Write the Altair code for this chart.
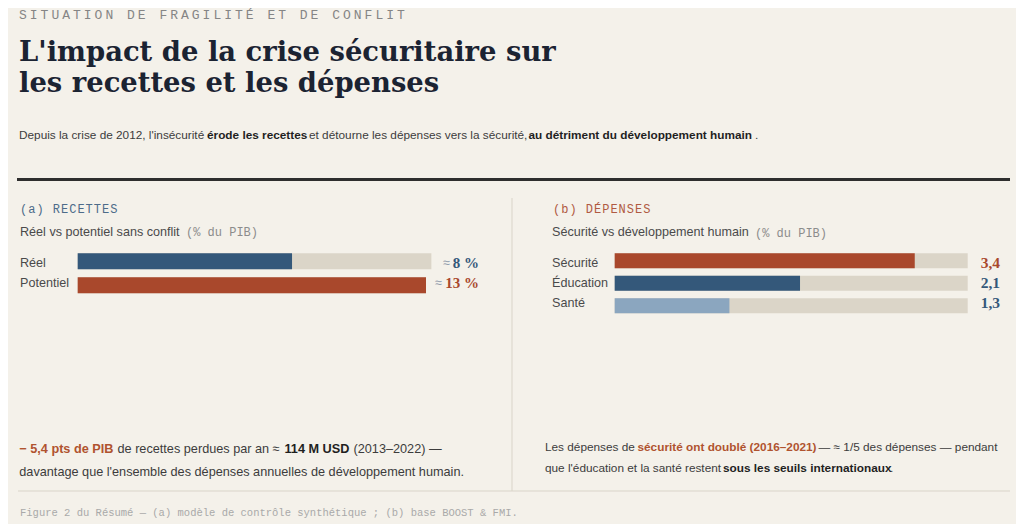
import altair as alt
import pandas as pd

# ---------------- data ----------------
REC_CATS = ["Réel", "Potentiel"]
REC_VALS = [8, 13]
REC_LABELS = ["8 %", "13 %"]
REC_TRACK = [13.2, 13.0]

DEP_CATS = ["Sécurité", "Éducation", "Santé"]
DEP_VALS = [3.4, 2.1, 1.3]
DEP_LABELS = ["3,4", "2,1", "1,3"]
DEP_MAX = 4

# ---------------- style ----------------
BG = "#f4f1ea"
TRACK = "#dbd5c8"
BLUE = "#34587a"
RED = "#a9482c"
LBLUE = "#8ba6bf"
TITLE = "#1b2332"
TXT = "#3c3c3c"
DARK = "#1f1f1f"
MUTED = "#8c8c8c"
SANS = "Liberation Sans"
SERIF = "DejaVu Serif"
NUMF = "Liberation Serif"
MONO = "Liberation Mono"
OFF = 8  # page margin

one = pd.DataFrame({"k": [0]})


def T(text, x, y, size=12.5, color=TXT, font=SANS, weight="normal", align="left", baseline="middle"):
    return alt.Chart(one).mark_text(
        align=align, baseline=baseline, font=font, fontSize=size, fontWeight=weight, color=color
    ).encode(x=alt.value(x - OFF), y=alt.value(y - OFF), text=alt.value(text))


def spaced(text, x0, y, pitch, size, color, font=MONO):
    df = pd.DataFrame({"c": list(text), "px": [x0 - OFF + i * pitch for i in range(len(text))]})
    return alt.Chart(df).mark_text(
        align="left", baseline="middle", font=font, fontSize=size, color=color
    ).encode(x=alt.X("px:Q", scale=None, axis=None), y=alt.value(y - OFF), text="c:N")


def R(x1, x2, y1, y2, color, w):
    return alt.Chart(one).mark_rule(color=color, strokeWidth=w).encode(
        x=alt.value(x1 - OFF), x2=alt.value(x2 - OFF), y=alt.value(y1 - OFF), y2=alt.value(y2 - OFF)
    )


layers = []

# header
layers.append(spaced("SITUATION DE FRAGILITÉ ET DE CONFLIT", 19, 14.5, 10.8, 13, "#858585"))
layers.append(T("L'impact de la crise sécuritaire sur", 19, 61, 27.4, TITLE, SERIF, "bold", baseline="alphabetic"))
layers.append(T("les recettes et les dépenses", 19, 92, 27.4, TITLE, SERIF, "bold", baseline="alphabetic"))
for s, x, w in [
    ("Depuis la crise de 2012, l'insécurité", 19, "normal"),
    ("érode les recettes", 207, "bold"),
    ("et détourne les dépenses vers la sécurité,", 309, "normal"),
    ("au détriment du développement humain", 528.5, "bold"),
    (".", 755, "normal"),
]:
    layers.append(T(s, x, 135, 11.8, DARK if w == "bold" else TXT, SANS, w))

# rules
layers.append(R(17, 1010, 179.5, 179.5, "#2e2e2e", 3))
layers.append(R(512, 512, 198, 491, "#d9d4c9", 1))
layers.append(R(18, 1010, 491, 491, "#d9d4c9", 1))

# panel headers
layers.append(spaced("(a) RECETTES", 20, 208.5, 8.2, 12, "#4d6b89"))
layers.append(T("Réel vs potentiel sans conflit", 20, 231.5, 12.6, "#4a4a4a"))
layers.append(T("(% du PIB)", 186, 232, 12, MUTED, MONO))
layers.append(spaced("(b) DÉPENSES", 553, 208.5, 8.2, 12, "#b05a42"))
layers.append(T("Sécurité vs développement humain", 552, 232, 12.6, "#4a4a4a"))
layers.append(T("(% du PIB)", 755, 232.5, 12, MUTED, MONO))

# ---- panel (a) bars
rec = pd.DataFrame({"cat": REC_CATS, "val": REC_VALS, "track": REC_TRACK, "label": REC_LABELS})
rec["approx_r"] = [450 - OFF, 442 - OFF]
yr = alt.Y("cat:N", sort=REC_CATS, axis=None,
           scale=alt.Scale(domain=REC_CATS, range=[253.3 - OFF, 293.3 - OFF], paddingInner=1 / 3, paddingOuter=0))
xr_scale = alt.Scale(domain=[0, 13], range=[77.7 - OFF, 426 - OFF], nice=False, zero=True)
rec_col = alt.Color("cat:N", legend=None, scale=alt.Scale(domain=REC_CATS, range=[BLUE, RED]))
base_r = alt.Chart(rec)
layers.append(base_r.mark_bar(color=TRACK).encode(x=alt.X("track:Q", scale=xr_scale, axis=None), y=yr))
layers.append(base_r.mark_bar().encode(x=alt.X("val:Q", scale=xr_scale, axis=None), y=yr, color=rec_col))
layers.append(base_r.mark_text(align="left", baseline="middle", font=SANS, fontSize=12.6, color="#4a4a4a")
              .encode(x=alt.value(20 - OFF), y=yr, text="cat:N"))
layers.append(base_r.mark_text(align="right", baseline="middle", font=NUMF, fontSize=15, fontWeight="bold")
              .encode(x=alt.value(479 - OFF), y=yr, text="label:N", color=rec_col))
layers.append(base_r.mark_text(align="right", baseline="middle", font=SANS, fontSize=12.5, color="#8d9aab")
              .encode(x=alt.X("approx_r:Q", scale=None, axis=None), y=yr, text=alt.value("≈")))

# ---- panel (b) bars
dep = pd.DataFrame({"cat": DEP_CATS, "val": DEP_VALS, "label": DEP_LABELS})
dep["track"] = DEP_MAX
yd = alt.Y("cat:N", sort=DEP_CATS, axis=None,
           scale=alt.Scale(domain=DEP_CATS, range=[253.3 - OFF, 313.3 - OFF], paddingInner=1 / 3, paddingOuter=0))
xd_scale = alt.Scale(domain=[0, DEP_MAX], range=[614.7 - OFF, 967.7 - OFF], nice=False, zero=True)
dep_col = alt.Color("cat:N", legend=None, scale=alt.Scale(domain=DEP_CATS, range=[RED, BLUE, LBLUE]))
dep_lab_col = alt.Color("cat:N", legend=None, scale=alt.Scale(domain=DEP_CATS, range=[RED, BLUE, BLUE]))
base_d = alt.Chart(dep)
layers.append(base_d.mark_bar(color=TRACK).encode(x=alt.X("track:Q", scale=xd_scale, axis=None), y=yd))
layers.append(base_d.mark_bar().encode(x=alt.X("val:Q", scale=xd_scale, axis=None), y=yd, color=dep_col))
layers.append(base_d.mark_text(align="left", baseline="middle", font=SANS, fontSize=12.6, color="#4a4a4a")
              .encode(x=alt.value(552 - OFF), y=yd, text="cat:N"))
layers.append(base_d.mark_text(align="right", baseline="middle", font=NUMF, fontSize=15.5, fontWeight="bold")
              .encode(x=alt.value(1000 - OFF), y=yd, text="label:N", color=dep_lab_col))

# ---- bottom notes
NRED = "#b0532f"
for s, x, w, c in [
    ("− 5,4 pts de PIB", 19.3, "bold", NRED),
    ("de recettes perdues par an ≈", 117.5, "normal", TXT),
    ("114 M USD", 284.5, "bold", DARK),
    ("(2013–2022) —", 353.5, "normal", TXT),
]:
    layers.append(T(s, x, 449, 12.7, c, SANS, w))
layers.append(T("davantage que l'ensemble des dépenses annuelles de développement humain.", 19.3, 472, 12.7, TXT))
for s, x, w, c in [
    ("Les dépenses de", 545, "normal", TXT),
    ("sécurité ont doublé (2016–2021)", 637.5, "bold", NRED),
    ("— ≈ 1/5 des dépenses — pendant", 818.5, "normal", TXT),
]:
    layers.append(T(s, x, 447, 11.8, c, SANS, w))
for s, x, w, c in [
    ("que l'éducation et la santé restent", 545, "normal", TXT),
    ("sous les seuils internationaux", 723, "bold", DARK),
    (".", 890, "normal", TXT),
]:
    layers.append(T(s, x, 468, 11.8, c, SANS, w))

# footer
layers.append(T("Figure 2 du Résumé — (a) modèle de contrôle synthétique ; (b) base BOOST & FMI.",
                20, 513, 10.5, "#a9a9a9", MONO))

chart = (
    alt.layer(*layers)
    .resolve_scale(x="independent", y="independent", color="independent")
    .properties(width=1008, height=516, padding=0, autosize=alt.AutoSizeParams(type="none"), background=BG)
    .configure_view(stroke=None)
)

chart.save("out.html", embed_options={"renderer": "svg", "actions": False})
